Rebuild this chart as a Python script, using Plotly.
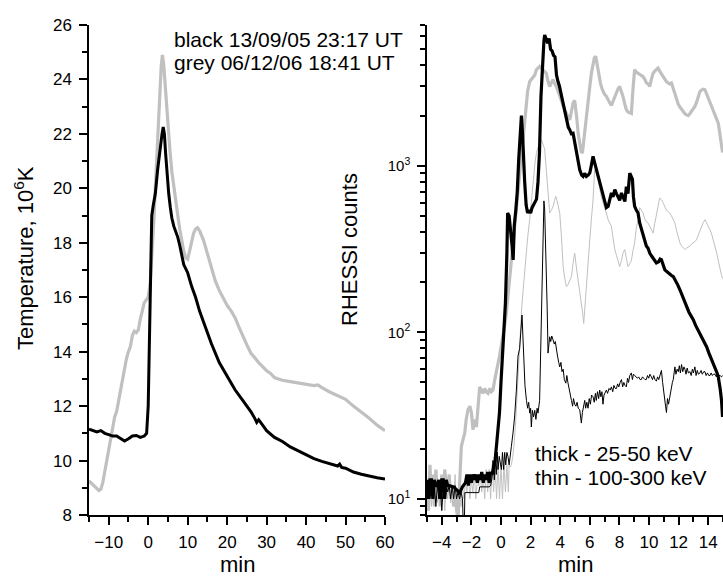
import plotly.graph_objects as go

# ---------------- Left panel: temperature ----------------
temp_black_t = [-15, -14, -13, -12, -11, -10, -9, -8, -7, -6,
                -5, -4, -3, -2, -1, -0.4, 0, 0.3, 0.6, 0.9,
                1.3, 1.8, 2.4, 3.0, 3.5, 3.8, 4.1, 4.4, 4.8, 5.2,
                5.6, 6.0, 6.5, 7.0, 7.5, 8.0, 8.5, 9.0, 10, 11,
                12, 13, 14, 16, 18, 20, 22, 24, 26, 27,
                27.5, 28, 29, 30, 32, 34, 36, 38, 40, 42,
                44, 46, 48, 48.5, 49, 50, 52, 54, 56, 58,
                60]
temp_black_v = [11.15, 11.1, 11.05, 11.1, 11.0, 10.95, 10.9, 10.9, 10.8, 10.72,
                10.8, 10.9, 10.92, 10.85, 10.9, 11.0, 12.0, 14.5, 17.0, 19.0,
                19.4, 19.8, 20.7, 21.5, 22.0, 22.25, 22.0, 21.3, 20.4, 19.8,
                19.3, 18.9, 18.6, 18.4, 18.2, 17.9, 17.6, 17.2, 16.9, 16.4,
                16.0, 15.5, 15.1, 14.3, 13.6, 13.1, 12.6, 12.2, 11.8, 11.55,
                11.4, 11.5, 11.3, 11.1, 10.85, 10.7, 10.5, 10.35, 10.2, 10.07,
                9.97, 9.88, 9.8, 9.87, 9.75, 9.72, 9.58, 9.5, 9.43, 9.37,
                9.32]

temp_grey_t = [-15, -14, -13, -12.5, -12, -11.5, -11, -10.5, -10, -9.5,
               -9, -8.5, -8, -7.5, -7, -6.5, -6, -5.5, -5, -4.5,
               -4, -3.5, -3, -2.5, -2, -1.5, -1, -0.5, 0, 0.5,
               1.0, 1.5, 2.0, 2.5, 3.0, 3.3, 3.6, 3.9, 4.2, 4.6,
               5.0, 5.5, 6.0, 6.5, 7.0, 7.5, 8.0, 8.5, 9.0, 9.5,
               10.0, 10.5, 11.0, 11.5, 12.0, 12.5, 13.0, 13.5, 14, 15,
               16, 17, 18, 19, 20, 21, 22, 23, 24, 25,
               26, 27, 28, 29, 30, 31, 32, 33, 34, 36,
               38, 40, 42, 43, 44, 46, 48, 50, 52, 54,
               56, 58, 60]
temp_grey_v = [9.25, 9.1, 8.95, 8.9, 8.95, 9.2, 9.6, 10.0, 10.5, 10.9,
               11.3, 11.6, 11.8, 12.2, 12.55, 12.9, 13.4, 13.75, 14.0, 14.2,
               14.6, 14.75, 14.7, 14.8, 15.2, 15.5, 15.8, 15.9, 16.0, 16.5,
               17.6, 19.0, 20.6, 22.2, 23.7, 24.5, 24.9, 24.6, 24.0, 23.1,
               22.4, 21.4, 20.6, 20.0, 19.5, 19.0, 18.5, 18.0, 17.7, 17.45,
               17.4, 17.7, 18.05, 18.35, 18.5, 18.55, 18.45, 18.3, 18.1, 17.6,
               17.1, 16.6, 16.25, 15.95, 15.7, 15.5, 15.25, 14.9, 14.55, 14.25,
               13.95, 13.75, 13.6, 13.45, 13.3, 13.2, 13.05, 13.0, 12.95, 12.9,
               12.85, 12.78, 12.75, 12.78, 12.68, 12.52, 12.4, 12.25, 12.0, 11.78,
               11.55, 11.3, 11.1]

# ---------------- Right panel: RHESSI counts ----------------
# thick black: 13/09/05, 25-50 keV
hx_black_low_t = [-5.0, -4.9, -4.8, -4.7, -4.6, -4.5, -4.4, -4.3, -4.2, -4.1,
                  -4.0, -3.9, -3.8, -3.7, -3.6, -3.5, -3.2, -3.0, -2.8, -2.6,
                  -2.4, -2.3, -2.2, -2.1, -2.0, -1.9, -1.8, -1.7, -1.6, -1.5,
                  -1.4, -1.3, -1.2, -1.1, -1.0, -0.9, -0.8, -0.7, -0.6, -0.5,
                  -0.4, -0.3, -0.2, -0.1, 0.0, 0.1, 0.2, 0.3, 0.4, 0.45,
                  0.55, 0.65, 0.75, 0.82, 0.9, 1.0, 1.1, 1.2, 1.3, 1.38,
                  1.45, 1.52, 1.6, 1.7, 1.8, 1.9, 2.0, 2.1, 2.2, 2.3,
                  2.4, 2.5, 2.6, 2.7, 2.8, 2.9, 2.95, 3.05, 3.15, 3.25,
                  3.35, 3.45, 3.55, 3.65, 3.75, 3.85, 3.95, 4.1, 4.2, 4.3,
                  4.42, 4.55, 4.65, 4.75, 4.87, 5.0, 5.1, 5.2, 5.32, 5.45,
                  5.55, 5.65, 5.77, 5.9, 6.0, 6.1, 6.22, 6.33, 6.45, 6.56,
                  6.67, 6.78, 6.9, 7.0, 7.12, 7.24, 7.35, 7.46, 7.57, 7.69,
                  7.8, 7.91, 8.02, 8.14, 8.25, 8.37, 8.47, 8.58, 8.7, 8.8,
                  8.88, 8.95, 9.03, 9.15, 9.26, 9.37, 9.48, 9.6, 9.7, 9.82,
                  9.94, 10.05, 10.2, 10.35, 10.5, 10.65, 10.75, 10.84, 10.95, 11.07,
                  11.2, 11.35, 11.5, 11.64, 11.8, 11.95, 12.09, 12.25, 12.4, 12.54,
                  12.7, 12.85, 12.99, 13.15, 13.3, 13.44, 13.6, 13.75, 13.89, 14.05,
                  14.2, 14.34, 14.5, 14.6, 14.68, 14.75, 14.82, 14.9, 14.97]
hx_black_low_v = [13, 10, 13, 13, 10, 13, 12, 12, 13, 10,
                  13, 13, 10, 13, 12, 12, 11.8, 11.3, 10.9, 11.8,
                  12.5, 14, 12, 14, 12.5, 14, 13, 14, 12.5, 14,
                  13, 14.5, 12.5, 14, 13, 14.5, 12.5, 14.5, 14, 15.5,
                  17, 21, 26, 33, 50, 70, 95, 150, 300, 520,
                  500, 420, 330, 272, 440, 540, 700, 1100, 1600, 2000,
                  1600, 1100, 800, 580, 520, 540, 520, 560, 580, 600,
                  630, 800, 1200, 2600, 4300, 5600, 6100, 5700, 5450, 5800,
                  5000, 4900, 4600, 4500, 3500, 3200, 3000, 2600, 2380, 2100,
                  1890, 1700, 1640, 1560, 1570, 1350, 1250, 1050, 946, 880,
                  863, 900, 863, 880, 905, 1000, 1140, 1040, 950, 863,
                  800, 752, 680, 625, 560, 570, 640, 686, 650, 720,
                  680, 655, 620, 686, 650, 610, 750, 680, 904, 870,
                  830, 650, 570, 540, 520, 453, 420, 377, 360, 330,
                  320, 299, 285, 270, 261, 265, 275, 273, 250, 237,
                  232, 225, 220, 216, 205, 192, 180, 165, 153, 143,
                  132, 125, 119, 110, 104, 99, 92, 87, 82, 75,
                  70, 65, 60, 57, 54, 50, 45, 39, 31]

# thick grey: 06/12/06, 25-50 keV
hx_grey_low_t = [-5.0, -4.9, -4.8, -4.7, -4.6, -4.5, -4.4, -4.3, -4.2, -4.1,
                 -4.0, -3.9, -3.8, -3.7, -3.6, -3.5, -3.4, -3.3, -3.2, -3.1,
                 -3.0, -2.9, -2.8, -2.68, -2.55, -2.45, -2.35, -2.23, -2.1, -2.0,
                 -1.89, -1.78, -1.66, -1.55, -1.44, -1.33, -1.22, -1.1, -1.0, -0.88,
                 -0.75, -0.65, -0.54, -0.42, -0.31, -0.2, -0.1, 0.02, 0.15, 0.25,
                 0.36, 0.47, 0.59, 0.7, 0.8, 0.9, 1.0, 1.1, 1.2, 1.3,
                 1.4, 1.5, 1.6, 1.7, 1.8, 1.94, 2.05, 2.17, 2.28, 2.39,
                 2.5, 2.61, 2.72, 2.84, 2.95, 3.06, 3.18, 3.29, 3.4, 3.52,
                 3.63, 3.74, 3.86, 3.97, 4.08, 4.2, 4.31, 4.42, 4.53, 4.65,
                 4.76, 4.87, 4.98, 5.06, 5.13, 5.22, 5.32, 5.41, 5.5, 5.6,
                 5.72, 5.86, 6.0, 6.11, 6.22, 6.31, 6.4, 6.51, 6.62, 6.73,
                 6.85, 6.98, 7.12, 7.24, 7.35, 7.46, 7.57, 7.69, 7.8, 7.91,
                 8.02, 8.13, 8.24, 8.36, 8.47, 8.58, 8.7, 8.81, 8.92, 9.03,
                 9.14, 9.26, 9.37, 9.48, 9.6, 9.71, 9.83, 9.94, 10.05, 10.16,
                 10.28, 10.39, 10.5, 10.61, 10.72, 10.84, 10.95, 11.07, 11.18, 11.29,
                 11.4, 11.52, 11.63, 11.75, 11.86, 11.97, 12.09, 12.2, 12.31, 12.43,
                 12.54, 12.65, 12.77, 12.88, 12.99, 13.1, 13.21, 13.33, 13.44, 13.55,
                 13.66, 13.78, 13.89, 14.0, 14.12, 14.23, 14.34, 14.46, 14.57, 14.68,
                 14.79, 14.9, 14.97]
hx_grey_low_v = [12, 8.5, 16, 10, 14, 9, 15, 11, 13, 9,
                 14, 10, 15, 12, 11, 14, 10, 12, 9, 11,
                 8.5, 7.5, 12, 20.6, 23, 24.8, 30, 34.3, 36, 33,
                 26, 30, 27, 38, 47, 45, 43, 46, 44, 43,
                 46, 44, 45, 52, 57, 65, 72, 82, 95, 110,
                 130, 165, 206, 260, 330, 400, 500, 650, 800, 1000,
                 1250, 1500, 1800, 2300, 2800, 3210, 3300, 3430, 3500, 3770,
                 3850, 3950, 3850, 3770, 3700, 3590, 3200, 2990, 3150, 3290,
                 3100, 2990, 2800, 2610, 2450, 2270, 2150, 2070, 1950, 1890,
                 2150, 2380, 2470, 2200, 1890, 1550, 1306, 1220, 1190, 1450,
                 1890, 2450, 2990, 3600, 4140, 4450, 4540, 4000, 3440, 3100,
                 2860, 2700, 2610, 2450, 2380, 2300, 2450, 2610, 2800, 2900,
                 2990, 2800, 2610, 2350, 2170, 2100, 2070, 2060, 2900, 3770,
                 3650, 3590, 3500, 3450, 3430, 3300, 3140, 3100, 2990, 3300,
                 3590, 3700, 3800, 3860, 3700, 3550, 3430, 3300, 3200, 3140,
                 3100, 3140, 2900, 2700, 2490, 2350, 2250, 2170, 2100, 2050,
                 2020, 2000, 2060, 2120, 2200, 2270, 2400, 2600, 2790, 2850,
                 2880, 2860, 2700, 2550, 2430, 2300, 2150, 2060, 1950, 1800,
                 1550, 1306, 1200]

# thin black: 13/09/05, 100-300 keV
hx_black_high_t = [-5.0, -4.9, -4.8, -4.7, -4.6, -4.5, -4.4, -4.3, -4.2, -4.1,
                   -4.0, -3.9, -3.8, -3.7, -3.6, -3.5, -3.4, -3.3, -3.2, -3.1,
                   -3.0, -2.9, -2.8, -2.7, -2.6, -2.5, -2.44, -2.0, -1.5, -1.44,
                   -1.0, -0.8, -0.7, -0.6, -0.54, -0.45, -0.4, -0.32, -0.25, -0.2,
                   -0.12, -0.05, 0.03, 0.1, 0.18, 0.25, 0.32, 0.4, 0.47, 0.55,
                   0.62, 0.7, 0.81, 0.92, 1.04, 1.15, 1.26, 1.34, 1.42, 1.48,
                   1.53, 1.62, 1.72, 1.8, 1.87, 1.94, 2.0, 2.05, 2.12, 2.2,
                   2.28, 2.36, 2.44, 2.5, 2.61, 2.67, 2.73, 2.79, 2.84, 2.9,
                   2.95, 3.0, 3.06, 3.12, 3.18, 3.23, 3.29, 3.36, 3.43, 3.52,
                   3.6, 3.67, 3.74, 3.82, 3.9, 3.97, 4.05, 4.12, 4.2, 4.28,
                   4.38, 4.45, 4.52, 4.6, 4.68, 4.76, 4.84, 4.9, 4.98, 5.06,
                   5.14, 5.22, 5.32, 5.38, 5.43, 5.5, 5.58, 5.66, 5.72, 5.8,
                   5.88, 5.96, 6.04, 6.12, 6.22, 6.3, 6.38, 6.44, 6.52, 6.6,
                   6.67, 6.75, 6.82, 6.89, 6.96, 7.04, 7.12, 7.2, 7.3, 7.38,
                   7.46, 7.55, 7.63, 7.72, 7.8, 7.88, 7.96, 8.05, 8.14, 8.22,
                   8.3, 8.38, 8.47, 8.55, 8.62, 8.7, 8.81, 8.88, 8.95, 9.03,
                   9.14, 9.22, 9.3, 9.4, 9.48, 9.56, 9.64, 9.73, 9.82, 9.9,
                   9.98, 10.06, 10.16, 10.24, 10.32, 10.4, 10.5, 10.58, 10.66, 10.75,
                   10.84, 10.92, 11.0, 11.07, 11.12, 11.18, 11.25, 11.32, 11.41, 11.5,
                   11.58, 11.64, 11.7, 11.75, 11.82, 11.9, 11.98, 12.05, 12.12, 12.2,
                   12.28, 12.36, 12.43, 12.5, 12.58, 12.66, 12.77, 12.85, 12.93, 13.0,
                   13.1, 13.18, 13.26, 13.34, 13.44, 13.52, 13.6, 13.7, 13.78, 13.86,
                   13.95, 14.04, 14.12, 14.2, 14.28, 14.36, 14.46, 14.55, 14.64, 14.72,
                   14.8, 14.9, 14.97]
hx_black_high_v = [10, 12, 10, 12, 10, 12, 9, 12, 10, 12,
                   8.5, 12, 10, 12, 11, 12, 10, 12, 10, 12,
                   10, 11, 10, 11, 10, 5, 10.9, 10.9, 10.9, 11.8,
                   11.8, 11.8, 12, 13.5, 17, 13, 18, 14, 19, 15,
                   18, 16, 15, 19, 15, 19, 16, 19, 18, 16,
                   19, 20.6, 24.8, 31, 45, 72, 80, 100, 127, 95,
                   68, 48, 39, 35, 38, 32.7, 35, 27, 34, 31,
                   34, 30, 35, 32.7, 39, 70, 143, 220, 314, 615,
                   550, 400, 272, 140, 75, 85, 94, 88, 95, 90,
                   85, 88, 82, 72, 66, 62, 66, 58, 60, 52,
                   49.5, 55, 50, 45, 42, 39, 36, 40, 37, 36,
                   38, 35, 34.3, 31, 28.5, 33, 36, 39, 35, 38,
                   35, 40, 37, 42, 41, 38, 43, 39, 44, 40,
                   45, 41, 44, 37, 42, 44, 45, 43, 46, 45,
                   47, 44, 48, 46, 46, 49, 47, 50, 52, 47,
                   50, 48, 47, 53, 50, 55, 57, 52, 56, 55,
                   54, 53, 54, 52, 52, 54, 53, 52, 52, 55,
                   53, 56, 54, 52, 55, 52, 51, 54, 52, 55,
                   59, 50, 45, 39, 36, 33, 40, 37, 42, 47,
                   50, 52, 58, 62, 56, 60, 58, 63, 57, 64,
                   58, 62, 60, 56, 61, 57, 58, 55, 60, 57,
                   62, 55, 59, 56, 57, 59, 56, 58, 58, 55,
                   57, 55, 55, 57, 55, 56, 56, 54, 56, 55,
                   55, 54, 55]

# thin grey: 06/12/06, 100-300 keV
hx_grey_high_t = [-5.0, -4.9, -4.8, -4.7, -4.6, -4.5, -4.4, -4.3, -4.2, -4.1,
                  -4.0, -3.9, -3.8, -3.7, -3.6, -3.5, -3.4, -3.3, -3.2, -3.1,
                  -3.0, -2.9, -2.8, -2.7, -2.6, -2.5, -2.4, -2.3, -2.2, -2.1,
                  -2.0, -1.9, -1.8, -1.7, -1.6, -1.5, -1.4, -1.3, -1.2, -1.1,
                  -1.0, -0.9, -0.8, -0.7, -0.6, -0.5, -0.4, -0.3, -0.2, -0.1,
                  0.0, 0.1, 0.2, 0.3, 0.4, 0.5, 0.55, 0.6, 0.7, 0.8,
                  0.9, 1.0, 1.1, 1.2, 1.3, 1.4, 1.5, 1.6, 1.7, 1.8,
                  1.94, 2.05, 2.17, 2.3, 2.4, 2.5, 2.62, 2.73, 2.84, 2.95,
                  3.06, 3.18, 3.29, 3.4, 3.52, 3.62, 3.7, 3.78, 3.86, 3.97,
                  4.08, 4.2, 4.31, 4.42, 4.55, 4.65, 4.76, 4.87, 4.98, 5.08,
                  5.2, 5.32, 5.43, 5.52, 5.59, 5.68, 5.77, 5.88, 6.0, 6.11,
                  6.22, 6.33, 6.44, 6.56, 6.67, 6.78, 6.9, 7.01, 7.12, 7.24,
                  7.35, 7.46, 7.57, 7.69, 7.8, 7.91, 8.02, 8.14, 8.25, 8.36,
                  8.47, 8.58, 8.7, 8.81, 8.92, 9.03, 9.14, 9.26, 9.37, 9.48,
                  9.6, 9.71, 9.83, 9.94, 10.05, 10.16, 10.28, 10.39, 10.5, 10.61,
                  10.72, 10.84, 10.95, 11.07, 11.18, 11.29, 11.4, 11.52, 11.63, 11.75,
                  11.86, 11.97, 12.09, 12.2, 12.31, 12.43, 12.54, 12.65, 12.77, 12.88,
                  12.99, 13.1, 13.21, 13.33, 13.44, 13.55, 13.66, 13.78, 13.89, 14.0,
                  14.12, 14.23, 14.34, 14.46, 14.57, 14.68, 14.8, 14.9, 14.97]
hx_grey_high_v = [8.5, 12, 14, 9, 12, 10, 13, 9.5, 12, 11,
                  9, 13, 8.5, 12, 10, 13, 9.5, 12, 10, 14,
                  8, 11, 13, 9, 12, 10, 13, 11, 14, 10,
                  13, 11, 14, 10, 13, 12, 14, 11, 14, 10,
                  15, 11, 15, 10, 16, 11, 16, 10, 16, 10,
                  16, 10, 16, 11, 16, 11, 16, 15.5, 16, 18,
                  22, 30, 45, 70, 100, 140, 180, 240, 300, 370,
                  474, 620, 824, 1050, 1200, 1306, 1400, 1432, 1350, 1260,
                  946, 650, 520, 540, 570, 620, 655, 620, 570, 520,
                  380, 248, 210, 188, 195, 205, 216, 260, 299, 250,
                  210, 180, 157, 130, 113, 150, 188, 260, 360, 480,
                  625, 946, 900, 824, 720, 650, 597, 560, 520, 474,
                  450, 433, 370, 314, 290, 270, 248, 270, 300, 314,
                  280, 248, 258, 270, 310, 344, 420, 474, 560, 540,
                  520, 480, 460, 453, 430, 410, 394, 450, 520, 570,
                  640, 625, 600, 560, 540, 530, 520, 500, 470, 453,
                  410, 370, 344, 330, 320, 314, 320, 325, 330, 340,
                  345, 350, 360, 385, 410, 433, 455, 474, 455, 430,
                  413, 390, 360, 330, 300, 270, 237, 220, 210]

# axis ticks
left_x_ticks = [-10, 0, 10, 20, 30, 40, 50, 60]
left_y_ticks = [8, 10, 12, 14, 16, 18, 20, 22, 24, 26]
right_x_ticks = [-4, -2, 0, 2, 4, 6, 8, 10, 12, 14]
right_y_ticks = [10, 100, 1000]
right_y_text = ["10<sup>1</sup>", "10<sup>2</sup>", "10<sup>3</sup>"]
right_y_minor = [8, 9, 20, 30, 40, 50, 60, 70, 80, 90,
                 200, 300, 400, 500, 600, 700, 800, 900,
                 2000, 3000, 4000, 5000, 6000, 7000]

GREY = "#c0c0c0"
FONT = "Liberation Sans, Arial, sans-serif"

fig = go.Figure()
fig.add_trace(go.Scatter(x=temp_grey_t, y=temp_grey_v, mode="lines",
                         line=dict(color=GREY, width=3.2), xaxis="x", yaxis="y"))
fig.add_trace(go.Scatter(x=temp_black_t, y=temp_black_v, mode="lines",
                         line=dict(color="black", width=3), xaxis="x", yaxis="y"))

fig.add_trace(go.Scatter(x=hx_grey_low_t, y=hx_grey_low_v, mode="lines",
                         line=dict(color=GREY, width=3.2), xaxis="x2", yaxis="y2"))
fig.add_trace(go.Scatter(x=hx_grey_high_t, y=hx_grey_high_v, mode="lines",
                         line=dict(color=GREY, width=1), xaxis="x2", yaxis="y2"))
fig.add_trace(go.Scatter(x=hx_black_low_t, y=hx_black_low_v, mode="lines",
                         line=dict(color="black", width=3.2), xaxis="x2", yaxis="y2"))
fig.add_trace(go.Scatter(x=hx_black_high_t, y=hx_black_high_v, mode="lines",
                         line=dict(color="black", width=1), xaxis="x2", yaxis="y2"))

axis_common = dict(showline=True, linecolor="black", linewidth=1.5, mirror=False,
                   showgrid=False, zeroline=False, ticks="outside", ticklen=8,
                   tickwidth=1.5, tickcolor="black", automargin=False,
                   tickfont=dict(family=FONT, size=17, color="black"))
minor_common = dict(ticks="outside", ticklen=5, tickwidth=1.5, tickcolor="black")

fig.update_layout(
    width=723, height=579,
    margin=dict(l=89, r=0, t=25, b=64),
    paper_bgcolor="white", plot_bgcolor="white",
    showlegend=False,
    font=dict(family=FONT, color="black"),
    xaxis=dict(axis_common, domain=[0, 0.4669], range=[-15, 60],
               tickmode="array", tickvals=left_x_ticks, ticklabelstandoff=3,
               minor=dict(minor_common, dtick=5, tick0=0),
               anchor="y"),
    yaxis=dict(axis_common, domain=[0, 1], range=[8, 26],
               tickmode="array", tickvals=left_y_ticks, ticklabelstandoff=4,
               minor=dict(minor_common, dtick=1, tick0=0),
               anchor="x"),
    xaxis2=dict(axis_common, domain=[0.5331, 1], range=[-5, 15],
                tickmode="array", tickvals=right_x_ticks, ticklabelstandoff=3,
                minor=dict(minor_common, dtick=1, tick0=0),
                anchor="y2"),
    yaxis2=dict(axis_common, domain=[0, 1], type="log",
                range=[0.903, 3.845],
                tickmode="array", tickvals=right_y_ticks, ticktext=right_y_text,
                tickfont=dict(family=FONT, size=15, color="black"), ticklabelstandoff=4,
                minor=dict(minor_common, tickmode="array", tickvals=right_y_minor),
                anchor="x2"),
)

title_font = dict(family=FONT, size=22, color="black")
label_font = dict(family=FONT, size=21, color="black")
ann = [
    dict(text="min", x=0.2335, y=-0.1306, xref="paper", yref="paper",
         xanchor="center", yanchor="bottom", showarrow=False, font=title_font),
    dict(text="min", x=0.7666, y=-0.1306, xref="paper", yref="paper",
         xanchor="center", yanchor="bottom", showarrow=False, font=title_font),
    dict(text="Temperature, 10<sup>6</sup>K", x=-0.1025, y=0.5245,
         xref="paper", yref="paper", xanchor="center", yanchor="middle",
         textangle=-90, showarrow=False, font=title_font),
    dict(text="RHESSI counts", x=0.4117, y=0.541,
         xref="paper", yref="paper", xanchor="center", yanchor="middle",
         textangle=-90, showarrow=False, font=title_font),
    dict(text="black 13/09/05 23:17 UT", x=0.1304, y=0.970,
         xref="paper", yref="paper", xanchor="left", yanchor="middle",
         showarrow=False, font=label_font),
    dict(text="grey 06/12/06 18:41 UT", x=0.1304, y=0.923,
         xref="paper", yref="paper", xanchor="left", yanchor="middle",
         showarrow=False, font=label_font),
    dict(text="thick - 25-50 keV", x=0.7008, y=0.1255,
         xref="paper", yref="paper", xanchor="left", yanchor="middle",
         showarrow=False, font=label_font),
    dict(text="thin - 100-300 keV", x=0.7008, y=0.0759,
         xref="paper", yref="paper", xanchor="left", yanchor="middle",
         showarrow=False, font=label_font),
]
fig.update_layout(annotations=ann)

# remove the default 8px page margin so the figure fills the 723x579 window exactly
fig.write_html("out.html", config={"displayModeBar": False},
               post_script="document.body.style.margin='0';document.body.style.overflow='hidden';")
